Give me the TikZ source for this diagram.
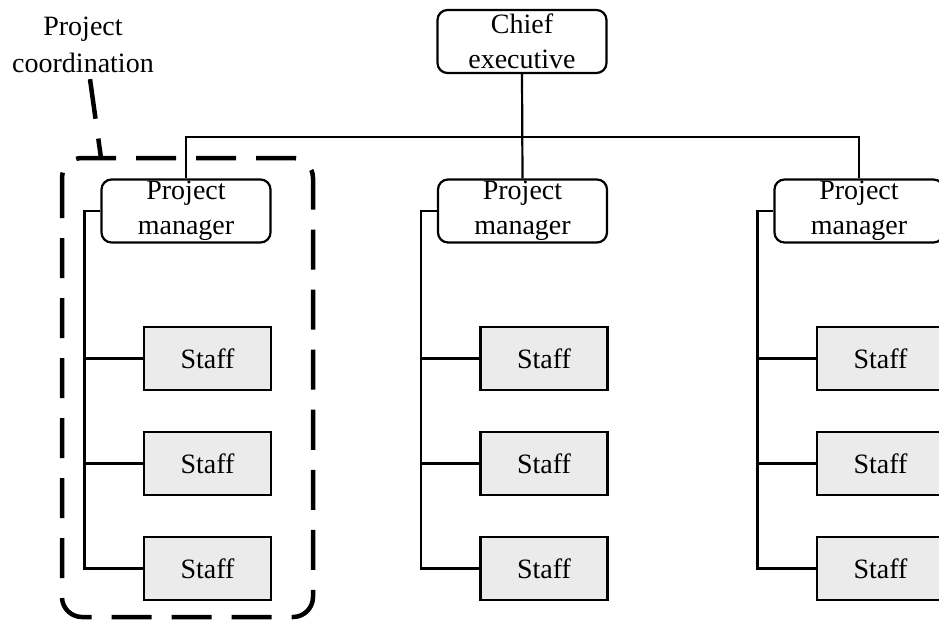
\documentclass[tikz,border=0pt]{standalone}
\usepackage{fontspec}
\setmainfont{Liberation Serif}
\usetikzlibrary{calc}
\begin{document}
\begin{tikzpicture}[x=1pt,y=-1pt,
  lbl/.style={font=\fontsize{28}{35}\selectfont, align=center, inner sep=0pt},
  headbox/.style={lbl, draw, line width=2.2pt, rounded corners=10pt,
    minimum width=169pt, minimum height=63pt},
  staffbox/.style={lbl, draw, line width=2.2pt, fill=black!8,
    minimum width=127pt, minimum height=63pt},
  wire/.style={line width=2.2pt},
  groupline/.style={line width=4.5pt, dash pattern=on 40pt off 20pt}]
\useasboundingbox (0,0) rectangle (939,622);
\clip (0,0) rectangle (939,622);

% top of the hierarchy
\node[headbox] (ceo) at (522,41.5) {Chief\\executive};

% project managers and their staff
\foreach \c/\x in {1/186, 2/522.5, 3/859} {
  \node[headbox] (pm\c) at (\x,211) {Project\\manager};
  \node[staffbox] (s\c1) at ($(pm\c)+(21.5,147.5)$) {Staff};
  \node[staffbox] (s\c2) at ($(pm\c)+(21.5,252.5)$) {Staff};
  \node[staffbox] (s\c3) at ($(pm\c)+(21.5,357.5)$) {Staff};
  \coordinate (t\c) at ($(pm\c.west)+(-16,0)$);
  \draw[wire] (pm\c.west) -- (t\c) |- (s\c3.west);
  \draw[wire] (t\c |- s\c1.west) -- (s\c1.west);
  \draw[wire] (t\c |- s\c2.west) -- (s\c2.west);
}

% reporting lines from the chief executive
\coordinate (bus) at (522.5,137);
\draw[wire] (ceo.south) -- (pm2.north);
\draw[wire] (pm1.north) |- (bus) -| (pm3.north);

% project coordination grouping
\draw[groupline, rounded corners=20pt] (62,158) rectangle (313,617);
\node[lbl, font=\fontsize{28}{37}\selectfont] (coord) at (83,45) {Project\\coordination};
\coordinate (ptr) at (101,158);
\draw[groupline] ($(coord.south)+(7,6)$) -- (ptr);
\end{tikzpicture}
\end{document}
